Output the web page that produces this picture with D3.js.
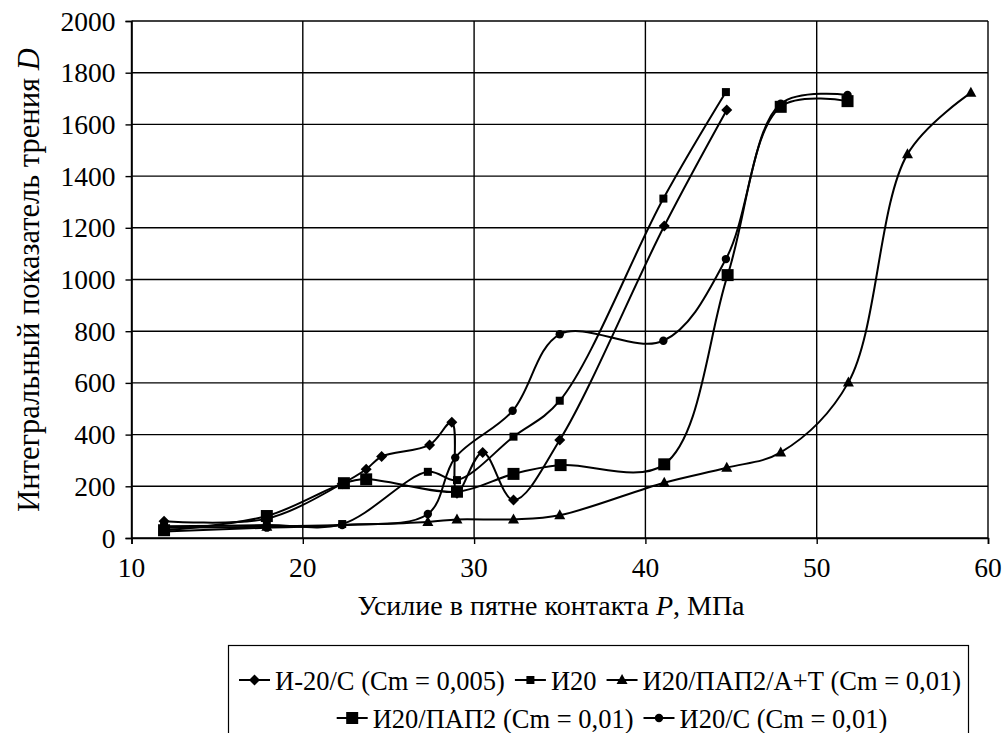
<!DOCTYPE html>
<html><head><meta charset="utf-8">
<script src="https://cdn.jsdelivr.net/npm/d3@7"></script>
<style>body{margin:0;background:#fff}svg{display:block}</style>
</head><body>
<svg id="c" width="1006" height="733"></svg>
<script>
const xTicks = [10, 20, 30, 40, 50, 60];
const yTicks = [0, 200, 400, 600, 800, 1000, 1200, 1400, 1600, 1800, 2000];

const s1Name = "И-20/С (Cm = 0,005)";
const s1X = [11.9, 17.9, 22.3, 23.7, 24.6, 27.4, 28.7, 29.0, 30.5, 32.3, 35.0, 41.1, 44.75];
const s1Y = [65, 75, 210, 266, 315, 360, 448, 173, 331, 147, 379, 1207, 1656];

const s2Name = "И20";
const s2X = [11.9, 17.9, 22.3, 27.3, 29.0, 32.3, 35.0, 41.05, 44.7];
const s2Y = [45, 50, 54, 256, 224, 392, 531, 1313, 1725];

const s3Name = "И20/ПАП2/А+Т (Cm = 0,01)";
const s3X = [11.9, 17.9, 27.3, 29.0, 32.3, 35.0, 41.1, 44.75, 47.9, 51.85, 55.3, 59.0];
const s3Y = [40, 44, 62, 72, 72, 88, 214, 272, 331, 602, 1485, 1722];

const s4Name = "И20/ПАП2 (Cm = 0,01)";
const s4X = [11.9, 17.9, 22.4, 23.7, 29.0, 32.3, 35.05, 41.1, 44.8, 47.9, 51.8];
const s4Y = [30, 85, 212, 227, 179, 248, 282, 285, 1017, 1668, 1690];

const s5Name = "И20/С (Cm = 0,01)";
const s5X = [11.9, 17.9, 22.3, 27.3, 28.9, 32.25, 35.0, 41.05, 44.7, 47.9, 51.8];
const s5Y = [25, 40, 50, 93, 311, 492, 788, 763, 1079, 1680, 1714];

const series = [
  {name: s1Name, xs: s1X, ys: s1Y, sym: "diamond"},
  {name: s2Name, xs: s2X, ys: s2Y, sym: "square"},
  {name: s3Name, xs: s3X, ys: s3Y, sym: "triangle"},
  {name: s4Name, xs: s4X, ys: s4Y, sym: "bigsquare"},
  {name: s5Name, xs: s5X, ys: s5Y, sym: "circle"}
];

const svg = d3.select("#c");
const x = d3.scaleLinear().domain([10, 60]).range([131.5, 988]);
const y = d3.scaleLinear().domain([0, 2000]).range([538, 21]);
const FONT = "'Liberation Serif','Times New Roman',serif";
const FS = 27.5;
const LFS = 26.5;

// grid
const g = svg.append("g");
g.selectAll(".hg").data(yTicks).enter().append("line")
  .attr("x1", x(10)).attr("x2", x(60)).attr("y1", d => y(d)).attr("y2", d => y(d))
  .attr("stroke", "#000").attr("stroke-width", 1.4);
g.selectAll(".vg").data(xTicks).enter().append("line")
  .attr("x1", d => x(d)).attr("x2", d => x(d)).attr("y1", y(0)).attr("y2", y(2000))
  .attr("stroke", "#000").attr("stroke-width", 1.4);

// axes
const xAxis = svg.append("g").attr("transform", `translate(0,${y(0)})`)
  .call(d3.axisBottom(x).tickValues(xTicks).tickSize(6).tickFormat(""));
const yAxis = svg.append("g").attr("transform", `translate(${x(10)},0)`)
  .call(d3.axisLeft(y).tickValues(yTicks).tickSize(6).tickFormat(""));
[xAxis, yAxis].forEach(a => {
  a.selectAll("path").attr("stroke", "#000").attr("stroke-width", 1.6);
  a.selectAll("line").attr("stroke", "#000").attr("stroke-width", 1.4);
});

function txt(tx, ty, s, anchor, fs) {
  return svg.append("text").attr("x", tx).attr("y", ty)
    .attr("text-anchor", anchor).attr("font-family", FONT).attr("font-size", fs || FS)
    .attr("fill", "#000").text(s);
}
xTicks.forEach(v => txt(x(v), 577, v, "middle"));
yTicks.forEach(v => txt(x(10) - 16, y(v) + 9.5, v, "end"));

const xt = txt(551, 615, "", "middle", 28);
xt.append("tspan").text("Усилие в пятне контакта ");
xt.append("tspan").attr("font-style", "italic").text("P");
xt.append("tspan").text(", МПа");

const yt = svg.append("text")
  .attr("transform", `translate(39,280) rotate(-90)`)
  .attr("text-anchor", "middle").attr("font-family", FONT).attr("font-size", 30.5);
yt.append("tspan").text("Интегральный показатель трения ");
yt.append("tspan").attr("font-style", "italic").text("D");

// lines
const line = d3.line().x(d => x(d[0])).y(d => y(d[1])).curve(d3.curveCatmullRom.alpha(0.5));
function drawMarker(sel, sym, cx, cy) {
  if (sym === "diamond") {
    sel.append("path").attr("d", `M${cx},${cy-5.5}L${cx+5.5},${cy}L${cx},${cy+5.5}L${cx-5.5},${cy}Z`).attr("fill", "#000");
  } else if (sym === "square") {
    sel.append("rect").attr("x", cx-4).attr("y", cy-4).attr("width", 8).attr("height", 8).attr("fill", "#000");
  } else if (sym === "bigsquare") {
    sel.append("rect").attr("x", cx-6).attr("y", cy-6).attr("width", 12).attr("height", 12).attr("fill", "#000");
  } else if (sym === "triangle") {
    sel.append("path").attr("d", `M${cx},${cy-6}L${cx+5.5},${cy+4}L${cx-5.5},${cy+4}Z`).attr("fill", "#000");
  } else {
    sel.append("circle").attr("cx", cx).attr("cy", cy).attr("r", 4.2).attr("fill", "#000");
  }
}
series.forEach(s => {
  const pts = s.xs.map((v, i) => [v, s.ys[i]]);
  svg.append("path").datum(pts).attr("d", line).attr("fill", "none")
    .attr("stroke", "#000").attr("stroke-width", 2);
  const mg = svg.append("g");
  pts.forEach(p => drawMarker(mg, s.sym, x(p[0]), y(p[1])));
});

// legend
svg.append("rect").attr("x", 228.5).attr("y", 645.5).attr("width", 740).attr("height", 100)
  .attr("fill", "#fff").attr("stroke", "#000").attr("stroke-width", 1.2);
const rows = [[series[0], series[1], series[2]], [series[3], series[4]]];
const rowY = [680, 718];
const rowC = [600, 612];
const LW = 31, GAP1 = 5, GAP2 = 10;
rows.forEach((items, ri) => {
  const cy = rowY[ri];
  const rg = svg.append("g");
  let cx = 0;
  items.forEach(s => {
    rg.append("line").attr("x1", cx).attr("x2", cx + LW).attr("y1", cy).attr("y2", cy)
      .attr("stroke", "#000").attr("stroke-width", 2);
    drawMarker(rg, s.sym, cx + LW / 2, cy);
    const t = rg.append("text").attr("x", cx + LW + GAP1).attr("y", cy + 9.5)
      .attr("font-family", FONT).attr("font-size", LFS).text(s.name);
    cx += LW + GAP1 + t.node().getComputedTextLength() + GAP2;
  });
  const w = cx - GAP2;
  rg.attr("transform", `translate(${rowC[ri] - w / 2},0)`);
});
</script>
</body></html>
